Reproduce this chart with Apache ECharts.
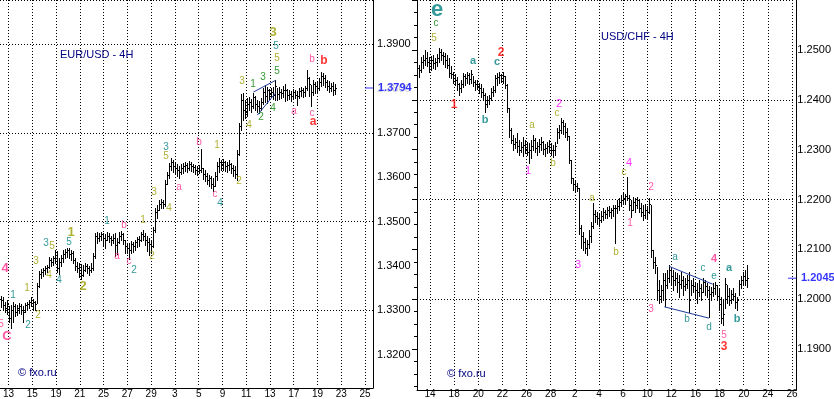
<!DOCTYPE html>
<html>
<head>
<meta charset="utf-8">
<title>EUR/USD - 4H / USD/CHF - 4H</title>
<script src="https://cdn.jsdelivr.net/npm/echarts@6/dist/echarts.min.js"></script>
<style>
  html, body { margin: 0; padding: 0; background: #fff; }
  #chart { width: 834px; height: 399px; }
</style>
</head>
<body>
<div id="chart"></div>
<script>
// ---- EUR/USD 4H bars (open of a bar = close of the one before) ----
var eurFirstOpen = 1.3325;
var eurHigh = [
  1.3332,1.3330,1.3319,1.3323,1.3310,1.3312,1.3319,1.3314,1.3312,1.3317,
  1.3314,1.3310,1.3317,1.3319,1.3323,1.3330,1.3326,1.3321,1.3361,1.3388,
  1.3392,1.3394,1.3399,1.3401,1.3419,1.3417,1.3421,1.3434,1.3432,1.3417,
  1.3423,1.3434,1.3437,1.3439,1.3439,1.3434,1.3432,1.3417,1.3408,1.3406,
  1.3403,1.3401,1.3406,1.3403,1.3399,1.3406,1.3428,1.3472,1.3474,1.3472,
  1.3474,1.3472,1.3470,1.3474,1.3472,1.3466,1.3470,1.3472,1.3461,1.3474,
  1.3477,1.3472,1.3457,1.3450,1.3450,1.3454,1.3452,1.3457,1.3463,1.3466,
  1.3474,1.3479,1.3472,1.3466,1.3461,1.3457,1.3486,1.3528,1.3534,1.3546,
  1.3548,1.3546,1.3590,1.3608,1.3628,1.3639,1.3634,1.3630,1.3626,1.3621,
  1.3626,1.3628,1.3630,1.3628,1.3632,1.3630,1.3626,1.3623,1.3621,1.3623,
  1.3659,1.3617,1.3612,1.3606,1.3601,1.3599,1.3594,1.3608,1.3630,1.3639,
  1.3634,1.3637,1.3632,1.3630,1.3634,1.3628,1.3623,1.3621,1.3657,1.3717,
  1.3781,1.3783,1.3768,1.3772,1.3774,1.3770,1.3783,1.3777,1.3768,1.3766,
  1.3772,1.3794,1.3801,1.3797,1.3792,1.3794,1.3797,1.3812,1.3794,1.3797,
  1.3792,1.3799,1.3803,1.3792,1.3790,1.3788,1.3792,1.3790,1.3788,1.3794,
  1.3797,1.3794,1.3799,1.3834,1.3819,1.3801,1.3812,1.3808,1.3810,1.3817,
  1.3830,1.3828,1.3823,1.3812,1.3810,1.3806,1.3808,1.3803
];
var eurLow = [
  1.3308,1.3301,1.3297,1.3292,1.3274,1.3261,1.3274,1.3288,1.3290,1.3294,
  1.3292,1.3274,1.3297,1.3301,1.3306,1.3310,1.3303,1.3301,1.3317,1.3352,
  1.3372,1.3377,1.3381,1.3386,1.3394,1.3399,1.3401,1.3406,1.3386,1.3381,
  1.3399,1.3408,1.3417,1.3419,1.3417,1.3412,1.3406,1.3390,1.3386,1.3374,
  1.3370,1.3377,1.3388,1.3383,1.3379,1.3386,1.3390,1.3417,1.3450,1.3454,
  1.3457,1.3443,1.3439,1.3457,1.3452,1.3446,1.3450,1.3421,1.3426,1.3450,
  1.3457,1.3448,1.3428,1.3428,1.3414,1.3428,1.3430,1.3434,1.3441,1.3443,
  1.3454,1.3457,1.3446,1.3432,1.3423,1.3428,1.3441,1.3474,1.3506,1.3523,
  1.3528,1.3528,1.3532,1.3581,1.3594,1.3612,1.3608,1.3603,1.3599,1.3594,
  1.3603,1.3606,1.3610,1.3608,1.3612,1.3610,1.3608,1.3603,1.3601,1.3606,
  1.3608,1.3592,1.3588,1.3581,1.3577,1.3572,1.3566,1.3577,1.3590,1.3608,
  1.3612,1.3612,1.3610,1.3608,1.3612,1.3606,1.3599,1.3594,1.3590,1.3646,
  1.3701,1.3723,1.3728,1.3732,1.3746,1.3741,1.3750,1.3746,1.3741,1.3739,
  1.3746,1.3759,1.3763,1.3761,1.3770,1.3774,1.3770,1.3768,1.3768,1.3770,
  1.3772,1.3774,1.3766,1.3768,1.3770,1.3766,1.3770,1.3772,1.3757,1.3772,
  1.3777,1.3774,1.3777,1.3790,1.3777,1.3754,1.3779,1.3783,1.3786,1.3790,
  1.3799,1.3801,1.3797,1.3790,1.3786,1.3788,1.3779,1.3781
];
var eurClose = [
  1.3323,1.3312,1.3306,1.3314,1.3283,1.3301,1.3310,1.3297,1.3306,1.3310,
  1.3301,1.3297,1.3312,1.3314,1.3319,1.3323,1.3319,1.3314,1.3354,1.3381,
  1.3386,1.3390,1.3394,1.3397,1.3412,1.3408,1.3417,1.3430,1.3394,1.3408,
  1.3417,1.3426,1.3430,1.3434,1.3426,1.3428,1.3412,1.3399,1.3394,1.3390,
  1.3379,1.3390,1.3399,1.3394,1.3390,1.3394,1.3421,1.3466,1.3461,1.3466,
  1.3470,1.3461,1.3457,1.3466,1.3461,1.3457,1.3461,1.3446,1.3452,1.3466,
  1.3470,1.3457,1.3443,1.3439,1.3434,1.3448,1.3443,1.3452,1.3459,1.3457,
  1.3470,1.3466,1.3457,1.3452,1.3448,1.3443,1.3479,1.3519,1.3523,1.3537,
  1.3541,1.3537,1.3581,1.3601,1.3621,1.3630,1.3621,1.3617,1.3612,1.3608,
  1.3617,1.3621,1.3623,1.3617,1.3626,1.3621,1.3619,1.3612,1.3617,1.3612,
  1.3617,1.3603,1.3599,1.3590,1.3594,1.3581,1.3577,1.3599,1.3621,1.3630,
  1.3626,1.3630,1.3621,1.3623,1.3626,1.3617,1.3612,1.3603,1.3648,1.3710,
  1.3768,1.3746,1.3741,1.3759,1.3763,1.3754,1.3774,1.3759,1.3754,1.3750,
  1.3763,1.3786,1.3777,1.3790,1.3781,1.3786,1.3779,1.3799,1.3781,1.3786,
  1.3783,1.3790,1.3790,1.3779,1.3781,1.3777,1.3786,1.3779,1.3777,1.3788,
  1.3790,1.3786,1.3794,1.3817,1.3803,1.3786,1.3803,1.3799,1.3794,1.3808,
  1.3821,1.3817,1.3808,1.3799,1.3794,1.3799,1.3790,1.3794
];
var eurLast = 1.3794;
var eurDates = ['13','15','19','21','25','27','29','3','5','9','11','13','17','19','23','25'];

// ---- USD/CHF 4H bars ----
var chfFirstOpen = 1.2435;
var chfHigh = [
  1.2440,1.2454,1.2458,1.2467,1.2464,1.2454,1.2456,1.2458,1.2453,1.2460,
  1.2471,1.2469,1.2464,1.2462,1.2458,1.2453,1.2438,1.2427,1.2423,1.2417,
  1.2406,1.2412,1.2425,1.2423,1.2427,1.2425,1.2430,1.2419,1.2412,1.2412,
  1.2406,1.2404,1.2397,1.2388,1.2382,1.2384,1.2397,1.2401,1.2421,1.2425,
  1.2427,1.2423,1.2427,1.2419,1.2404,1.2360,1.2323,1.2310,1.2304,1.2314,
  1.2301,1.2297,1.2306,1.2301,1.2297,1.2295,1.2301,1.2310,1.2304,1.2297,
  1.2303,1.2306,1.2299,1.2293,1.2297,1.2301,1.2295,1.2291,1.2297,1.2323,
  1.2329,1.2341,1.2338,1.2332,1.2323,1.2308,1.2264,1.2230,1.2227,1.2221,
  1.2212,1.2143,1.2130,1.2119,1.2116,1.2134,1.2149,1.2184,1.2171,1.2167,
  1.2164,1.2169,1.2175,1.2171,1.2177,1.2179,1.2175,1.2180,1.2180,1.2190,
  1.2193,1.2199,1.2203,1.2201,1.2232,1.2199,1.2190,1.2195,1.2193,1.2195,
  1.2191,1.2184,1.2180,1.2182,1.2179,1.2193,1.2180,1.2097,1.2084,1.2066,
  1.2041,1.2032,1.2054,1.2054,1.2060,1.2069,1.2064,1.2060,1.2056,1.2054,
  1.2051,1.2056,1.2049,1.2045,1.2051,1.2056,1.2041,1.2045,1.2038,1.2036,
  1.2041,1.2034,1.2045,1.2041,1.2036,1.2030,1.2029,1.2036,1.2038,1.2032,
  1.2027,1.2010,1.2004,1.2045,1.2032,1.2027,1.2023,1.2027,1.2017,1.2010,
  1.2041,1.2049,1.2056,1.2060,1.2069
];
var chfLow = [
  1.2417,1.2427,1.2434,1.2440,1.2438,1.2427,1.2430,1.2434,1.2432,1.2438,
  1.2445,1.2449,1.2441,1.2436,1.2434,1.2417,1.2416,1.2406,1.2403,1.2393,
  1.2384,1.2390,1.2399,1.2403,1.2406,1.2404,1.2406,1.2401,1.2393,1.2395,
  1.2388,1.2380,1.2375,1.2353,1.2362,1.2367,1.2375,1.2382,1.2390,1.2403,
  1.2406,1.2408,1.2406,1.2397,1.2353,1.2306,1.2295,1.2282,1.2286,1.2279,
  1.2273,1.2279,1.2271,1.2277,1.2273,1.2258,1.2267,1.2282,1.2279,1.2273,
  1.2279,1.2282,1.2275,1.2271,1.2277,1.2279,1.2273,1.2269,1.2273,1.2295,
  1.2304,1.2314,1.2312,1.2306,1.2301,1.2258,1.2221,1.2208,1.2204,1.2206,
  1.2127,1.2101,1.2097,1.2091,1.2088,1.2101,1.2112,1.2138,1.2149,1.2145,
  1.2142,1.2149,1.2153,1.2156,1.2156,1.2160,1.2156,1.2160,1.2110,1.2166,
  1.2171,1.2179,1.2184,1.2182,1.2190,1.2171,1.2158,1.2171,1.2167,1.2175,
  1.2167,1.2160,1.2153,1.2156,1.2154,1.2166,1.2084,1.2064,1.2054,1.2004,
  1.1999,1.2001,1.2004,1.1993,1.2027,1.2038,1.2032,1.2023,1.2032,1.2019,
  1.2010,1.2027,1.2014,1.2023,1.2027,1.1982,1.2014,1.2019,1.2008,1.1999,
  1.2012,1.2004,1.2019,1.2014,1.2010,1.1973,1.2004,1.2012,1.2016,1.2004,
  1.1986,1.1962,1.1958,1.1990,1.1999,1.1995,1.1999,1.2004,1.1990,1.1986,
  1.2014,1.2027,1.2034,1.2032,1.2029
];
var chfClose = [
  1.2430,1.2445,1.2449,1.2453,1.2445,1.2438,1.2449,1.2443,1.2445,1.2453,
  1.2464,1.2458,1.2456,1.2449,1.2440,1.2425,1.2423,1.2416,1.2412,1.2404,
  1.2397,1.2404,1.2419,1.2416,1.2421,1.2414,1.2423,1.2408,1.2404,1.2401,
  1.2397,1.2390,1.2384,1.2367,1.2375,1.2379,1.2390,1.2393,1.2416,1.2417,
  1.2421,1.2416,1.2419,1.2403,1.2360,1.2319,1.2301,1.2293,1.2297,1.2290,
  1.2282,1.2288,1.2291,1.2284,1.2279,1.2282,1.2290,1.2301,1.2286,1.2290,
  1.2293,1.2297,1.2284,1.2286,1.2290,1.2288,1.2282,1.2282,1.2290,1.2316,
  1.2319,1.2334,1.2327,1.2316,1.2308,1.2264,1.2230,1.2219,1.2216,1.2212,
  1.2138,1.2123,1.2112,1.2101,1.2108,1.2123,1.2142,1.2164,1.2160,1.2156,
  1.2153,1.2160,1.2167,1.2164,1.2171,1.2167,1.2171,1.2175,1.2175,1.2179,
  1.2186,1.2190,1.2193,1.2197,1.2193,1.2180,1.2171,1.2186,1.2180,1.2190,
  1.2175,1.2167,1.2162,1.2171,1.2167,1.2182,1.2097,1.2075,1.2069,1.2023,
  1.2012,1.2023,1.2041,1.2032,1.2045,1.2060,1.2049,1.2041,1.2045,1.2038,
  1.2034,1.2041,1.2030,1.2034,1.2041,1.2004,1.2032,1.2030,1.2023,1.2019,
  1.2027,1.2019,1.2038,1.2030,1.2023,1.2016,1.2019,1.2027,1.2032,1.2012,
  1.1997,1.1971,1.1979,1.2034,1.2012,1.2004,1.2016,1.2012,1.2001,1.2004,
  1.2034,1.2041,1.2049,1.2041,1.2045
];
var chfLast = 1.2045;
var chfDates = ['14','18','20','22','26','28','2','4','6','10','12','16','18','20','24','26'];

// wave marks: [bar, price, text, style]
var eurWaves = [
  [136.5,1.3917,'3','olB'],[138,1.3886,'5','te'],[138.5,1.3861,'5','ol'],[138.5,1.3832,'5','gr'],
  [121,1.3808,'3','ol'],[126.5,1.3803,'1','gr'],[131.5,1.3817,'3','gr'],[130.5,1.3728,'2','gr'],
  [136.5,1.3748,'4','gr'],[124.5,1.3712,'4','ol'],[147,1.3743,'a','pk'],[156,1.3857,'b','pk'],
  [162,1.3854,'b','rdB'],[156,1.3739,'c','pk'],[156.5,1.3719,'a','rdB'],
  [83,1.3663,'3','te'],[83,1.3643,'5','ol'],[99.5,1.3674,'b','pk'],[108.5,1.3666,'1','ol'],
  [89.5,1.3574,'a','pk'],[107.5,1.3557,'c','pk'],[119.5,1.3586,'2','ol'],[77,1.3563,'3','ol'],
  [110,1.3539,'4','te'],[84.5,1.3526,'4','ol'],[53.5,1.3497,'1','te'],[62,1.3490,'b','pk'],
  [71.5,1.3501,'1','ol'],[58.5,1.3421,'a','pk'],[64.5,1.3408,'c','pk'],[67,1.3388,'2','te'],
  [76,1.3419,'2','ol'],[35.5,1.3474,'1','olB'],[34.5,1.3452,'5','te'],[23,1.3450,'3','te'],
  [26,1.3443,'5','ol'],[18,1.3408,'3','ol'],[24.5,1.3377,'4','ol'],[29.5,1.3366,'4','te'],
  [41.5,1.3352,'2','olB'],[13.5,1.3348,'1','ol'],[6.5,1.3334,'1','te'],[19,1.3288,'2','ol'],
  [14,1.3266,'2','te'],[2.5,1.3392,'4','pkB'],[0.5,1.3268,'5','pk'],[3.5,1.3243,'C','pkB']
];
var chfWaves = [
  [10,1.2541,'e','teXL'],[9.5,1.2517,'c','gr'],[8.5,1.2490,'5','ol'],[28,1.2447,'a','teB'],
  [40,1.2445,'c','teB'],[42,1.2462,'2','rdB'],[18.5,1.2367,'1','rdB'],[34,1.2338,'b','teB'],
  [57.5,1.2329,'a','ol'],[71,1.2367,'2','mg'],[70,1.2351,'c','ol'],[55.5,1.2243,'1','mg'],
  [68,1.2258,'b','ol'],[106,1.2258,'4','mg'],[103.5,1.2241,'c','ol'],[117,1.2214,'2','pk'],
  [87.5,1.2193,'a','ol'],[80.5,1.2069,'3','mg'],[99.5,1.2093,'b','ol'],[106.5,1.2147,'1','pk'],
  [117,1.1988,'3','pk'],[129,1.2084,'a','te'],[135,1.1969,'b','te'],[143,1.2064,'c','te'],
  [146,1.1954,'d','te'],[148.5,1.2049,'e','te'],[148.5,1.2080,'4','pkM'],[156,1.2064,'a','teB'],
  [160,1.1969,'b','teB'],[153.5,1.1940,'5','pk'],[153.5,1.1919,'3','rdB']
];

// triangle / wedge lines: [[bar, price], [bar, price]]
var eurWedge = [
  [[126.7,1.3785],[137.8,1.3811]],
  [[128.7,1.3734],[137.8,1.3783]]
];
var chfWedge = [
  [[126,1.2067],[147.8,1.2034]],
  [[123.7,1.1992],[146,1.1971]]
];

var waveStyle = {
  ol:   { color: '#9c9c00', size: 10, weight: 'normal' },
  olB:  { color: '#9c9c00', size: 13, weight: 'bold' },
  te:   { color: '#008080', size: 10, weight: 'normal' },
  teB:  { color: '#008080', size: 11, weight: 'bold' },
  teXL: { color: '#008080', size: 22, weight: 'bold' },
  gr:   { color: '#008000', size: 10, weight: 'normal' },
  pk:   { color: '#ff2d8c', size: 10, weight: 'normal' },
  pkM:  { color: '#ff2d8c', size: 11, weight: 'bold' },
  pkB:  { color: '#ff2d8c', size: 13, weight: 'bold' },
  mg:   { color: '#ff00ff', size: 11, weight: 'normal' },
  rdB:  { color: '#ff0000', size: 12, weight: 'bold' }
};

var axisFont = "'Liberation Sans Narrow', 'Liberation Sans', Arial, sans-serif";
var dotted = { type: [1, 2], color: '#000', width: 1 };

function buildBars(high, low, close, firstOpen, start) {
  var rows = [];
  for (var i = 0; i < close.length; i++) {
    var open = i === 0 ? firstOpen : close[i - 1];
    rows.push([start + i, open, high[i], low[i], close[i]]);
  }
  return rows;
}

function waveData(list) {
  return list.map(function (w) {
    var s = waveStyle[w[3]];
    return {
      value: [w[0], w[1]],
      label: { formatter: w[2], color: s.color, fontSize: s.size, fontWeight: s.weight }
    };
  });
}

function wedgeData(list) {
  return list.map(function (seg) { return { coords: seg }; });
}

// one OHLC bar: high-low stick, open tick left, close tick right
function renderBar(params, api) {
  var x = api.value(0);
  var op = api.coord([x, api.value(1)]);
  var hi = api.coord([x, api.value(2)]);
  var lo = api.coord([x, api.value(3)]);
  var cl = api.coord([x, api.value(4)]);
  var cx = Math.round(hi[0]);
  var top = Math.round(hi[1]);
  var bottom = Math.round(lo[1]);
  var st = { fill: '#000' };
  return {
    type: 'group',
    children: [
      { type: 'rect', shape: { x: cx, y: top, width: 1, height: Math.max(1, bottom - top + 1) }, style: st },
      { type: 'rect', shape: { x: cx - 1, y: Math.round(op[1]), width: 1, height: 1 }, style: st },
      { type: 'rect', shape: { x: cx + 1, y: Math.round(cl[1]), width: 1, height: 1 }, style: st }
    ]
  };
}

function lastPrice(xMax, price, xi, yi) {
  return {
    type: 'scatter', xAxisIndex: xi, yAxisIndex: yi, clip: false, z: 10, silent: true,
    symbol: 'rect', symbolSize: [8, 1], symbolOffset: [-4, 0],
    itemStyle: { color: '#0000ff' },
    data: [[xMax, price]],
    label: {
      show: true, position: 'right', distance: 5,
      formatter: price.toFixed(4),
      color: '#0000ff', fontWeight: 'bold', fontSize: 11,
      fontFamily: "'Liberation Sans', Arial, sans-serif",
      backgroundColor: '#fff', padding: [0, 1, 0, 0]
    }
  };
}

function waveSeries(list, xi, yi) {
  return {
    type: 'scatter', xAxisIndex: xi, yAxisIndex: yi, clip: false, silent: true, z: 5,
    symbolSize: 1, itemStyle: { color: 'rgba(0,0,0,0)' },
    label: { show: true, position: 'inside', fontFamily: "'Liberation Sans', Arial, sans-serif" },
    data: waveData(list)
  };
}

function wedgeSeries(list, xi, yi) {
  return {
    type: 'lines', coordinateSystem: 'cartesian2d', xAxisIndex: xi, yAxisIndex: yi,
    silent: true, z: 4,
    lineStyle: { color: '#1f3c9c', width: 1, opacity: 1 },
    data: wedgeData(list)
  };
}

function dateAxis(grid, dates) {
  return {
    type: 'category', gridIndex: grid, data: dates, boundaryGap: false,
    axisLine: { show: false }, axisTick: { show: false },
    axisLabel: { interval: 0, margin: 3, fontSize: 10, color: '#000', fontFamily: axisFont },
    splitLine: { show: true, interval: 0, lineStyle: dotted }
  };
}

function priceLabelAxis(grid, min, max) {
  return {
    type: 'value', gridIndex: grid, position: 'right', min: min, max: max, interval: 0.01,
    axisLine: { show: false },
    axisTick: { show: true, inside: true, length: 5, lineStyle: { color: '#000' } },
    minorTick: { show: true, splitNumber: 4, length: 3, lineStyle: { color: '#000' } },
    axisLabel: {
      margin: 4, fontSize: 11, color: '#000', fontFamily: axisFont,
      showMinLabel: false, showMaxLabel: false,
      formatter: function (v) { return v.toFixed(4); }
    },
    splitLine: { show: false }
  };
}

// horizontal dotted grid every second label; counted in 0.01 steps from the axis bottom
function gridLineAxis(grid, steps) {
  return {
    type: 'value', gridIndex: grid, position: 'left', min: 0, max: steps, interval: 2,
    axisLine: { show: false }, axisTick: { show: false }, axisLabel: { show: false },
    splitLine: { show: true, lineStyle: dotted }
  };
}

function frameY(grid, min, max, pos) {
  return {
    type: 'value', gridIndex: grid, position: pos, min: min, max: max,
    axisLine: { show: true, onZero: false, lineStyle: { color: '#000', width: 1 } },
    axisTick: { show: false }, axisLabel: { show: false }, splitLine: { show: false }
  };
}

function frameX(grid, max) {
  return {
    type: 'value', gridIndex: grid, min: 0, max: max,
    axisLine: { show: true, onZero: false, lineStyle: { color: '#000', width: 1 } },
    axisTick: { show: false }, axisLabel: { show: false }, splitLine: { show: false }
  };
}

function hidden(type, grid) {
  return { type: type, gridIndex: grid, show: false, min: 0, max: 1 };
}

var chart = echarts.init(document.getElementById('chart'));

var option = {
  animation: false,
  backgroundColor: '#fff',
  textStyle: { fontFamily: "'Liberation Sans', Arial, sans-serif" },
  title: [
    { text: 'EUR/USD - 4H', left: 60, top: 49, padding: 0,
      textStyle: { color: '#000080', fontSize: 11, fontWeight: 'normal' } },
    { text: '© fxo.ru', left: 18, top: 367, padding: 0,
      textStyle: { color: '#000080', fontSize: 11, fontWeight: 'normal' } },
    { text: 'USD/CHF - 4H', left: 601, top: 31, padding: 0,
      textStyle: { color: '#000080', fontSize: 11, fontWeight: 'normal' } },
    { text: '© fxo.ru', left: 447, top: 368, padding: 0,
      textStyle: { color: '#000080', fontSize: 11, fontWeight: 'normal' } }
  ],
  grid: [
    { left: 5, top: 0, width: 360, height: 388 },        // 0 EUR dates
    { left: 0, top: -4.7, width: 373, height: 405 },     // 1 EUR price scale 1.31 - 1.40
    { left: 0, top: 0, width: 373, height: 388 },        // 2 EUR bars
    { left: 430, top: 0, width: 362, height: 390 },      // 3 CHF dates
    { left: 417, top: -21.5, width: 379, height: 432 },  // 4 CHF price scale 1.18 - 1.26
    { left: 417, top: 0, width: 379, height: 390 }       // 5 CHF bars
  ],
  xAxis: [
    dateAxis(0, eurDates),
    hidden('value', 1),
    frameX(2, 186.5),
    dateAxis(3, chfDates),
    hidden('value', 4),
    frameX(5, 189.5)
  ],
  yAxis: [
    hidden('value', 0),
    priceLabelAxis(1, 1.31, 1.40),
    gridLineAxis(1, 9),
    frameY(2, 1.312733, 1.398956, 'right'),
    hidden('value', 3),
    priceLabelAxis(4, 1.18, 1.26),
    gridLineAxis(4, 8),
    frameY(5, 1.183796, 1.256019, 'right'),
    frameY(5, 1.183796, 1.256019, 'left')
  ],
  series: [
    {
      type: 'custom', xAxisIndex: 2, yAxisIndex: 3, z: 3, silent: true,
      renderItem: renderBar, encode: { x: 0, y: [1, 2, 3, 4] },
      data: buildBars(eurHigh, eurLow, eurClose, eurFirstOpen, 0.5)
    },
    wedgeSeries(eurWedge, 2, 3),
    waveSeries(eurWaves, 2, 3),
    lastPrice(186.5, eurLast, 2, 3),
    {
      type: 'custom', xAxisIndex: 5, yAxisIndex: 7, z: 3, silent: true,
      renderItem: renderBar, encode: { x: 0, y: [1, 2, 3, 4] },
      data: buildBars(chfHigh, chfLow, chfClose, chfFirstOpen, 1)
    },
    wedgeSeries(chfWedge, 5, 7),
    waveSeries(chfWaves, 5, 7),
    lastPrice(189.5, chfLast, 5, 7)
  ]
};

chart.setOption(option);
</script>
</body>
</html>
